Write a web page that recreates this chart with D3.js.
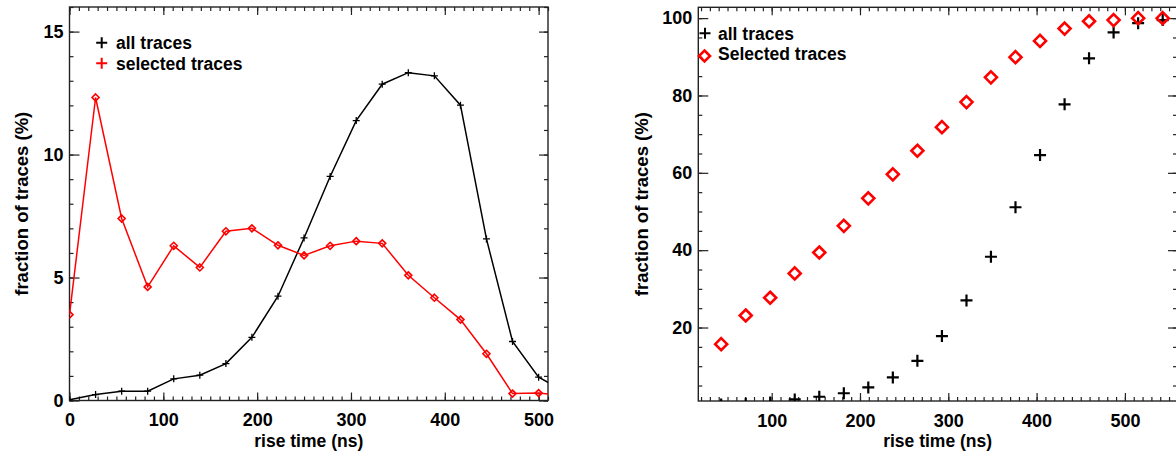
<!DOCTYPE html>
<html>
<head>
<meta charset="utf-8">
<script src="https://cdn.jsdelivr.net/npm/d3@7"></script>
<style>
  html, body { margin: 0; padding: 0; background: #fff; }
  svg { display: block; }
  text { font-family: "Liberation Sans", Arial, Helvetica, sans-serif; font-weight: bold; fill: #000; }
</style>
</head>
<body>
<svg id="chart" width="1176" height="459"></svg>
<script>
// ---------- Data: left panel (distribution) ----------
const riseTimeL = [0, 27.8, 55.6, 83.3, 111.1, 138.9, 166.7, 194.4, 222.2, 250, 277.8, 305.6, 333.3, 361.1, 388.9, 416.7, 444.4, 472.2, 500, 527.8];
const allTracesL = [0.03, 0.24, 0.38, 0.38, 0.88, 1.03, 1.5, 2.57, 4.24, 6.61, 9.11, 11.38, 12.86, 13.33, 13.2, 12.01, 6.57, 2.4, 0.95, 0.35];
const selTracesL = [3.49, 12.32, 7.4, 4.62, 6.29, 5.41, 6.88, 7.0, 6.31, 5.9, 6.29, 6.48, 6.39, 5.09, 4.18, 3.29, 1.9, 0.28, 0.3, 0.2];

// ---------- Data: right panel (cumulative) ----------
const riseTimeR = [42.8, 70.6, 98.3, 126.1, 153.9, 181.7, 209.4, 237.2, 265, 292.8, 320.6, 348.3, 376.1, 403.9, 431.7, 459.4, 487.2, 515, 542.8];
const allTracesR = [0.1, 0.3, 0.6, 1.4, 2.1, 3.0, 4.5, 7.1, 11.4, 17.8, 27.0, 38.3, 51.1, 64.6, 77.7, 89.6, 96.3, 98.7, 99.5];
const selTracesR = [15.7, 23.1, 27.7, 34.0, 39.4, 46.3, 53.4, 59.6, 65.7, 71.8, 78.3, 84.7, 89.9, 94.1, 97.3, 99.2, 99.5, 100.0, 100.0];

// ---------- Ticks / labels ----------
const xMajorL = [0, 100, 200, 300, 400, 500];
const yMajorL = [0, 5, 10, 15];
const xMajorR = [100, 200, 300, 400, 500];
const yMajorR = [20, 40, 60, 80, 100];
const xTitle = "rise time (ns)";
const yTitle = "fraction of traces (%)";
const legendL = ["all traces", "selected traces"];
const legendR = ["all traces", "Selected traces"];

const RED = "#ff0000";
const AXC = "#222";

const svg = d3.select("#chart");

function panel(cfg) {
  const { id, xDomain, xRange, yDomain, yRange, xMajor, xMinorStep, xMinorStart, yMajor, yMinorStep, yMinorStart } = cfg;
  const x = d3.scaleLinear().domain(xDomain).range(xRange);
  const y = d3.scaleLinear().domain(yDomain).range(yRange);
  const g = svg.append("g");

  svg.append("clipPath").attr("id", "clip" + id)
    .append("rect").attr("x", xRange[0]).attr("y", yRange[1])
    .attr("width", xRange[1] - xRange[0]).attr("height", yRange[0] - yRange[1]);

  const xMinor = d3.range(xMinorStart, xDomain[1] + 0.001, xMinorStep);
  const yMinor = d3.range(yMinorStart, yDomain[1] + 0.001, yMinorStep);

  const styleAxis = sel => {
    sel.select(".domain").remove();
    sel.selectAll("line").attr("stroke", AXC).attr("stroke-width", 1.2);
    sel.selectAll("text").style("font-size", "18px").style("font-weight", "bold").attr("fill", "#000");
  };

  g.append("g").attr("transform", `translate(0,${yRange[0]})`)
    .call(d3.axisBottom(x).tickValues(xMinor).tickSize(-4).tickFormat("")).call(styleAxis);
  g.append("g").attr("transform", `translate(0,${yRange[0]})`)
    .call(d3.axisBottom(x).tickValues(xMajor).tickSize(-8).tickPadding(13).tickFormat(d3.format("d"))).call(styleAxis);
  g.append("g").attr("transform", `translate(0,${yRange[1]})`)
    .call(d3.axisTop(x).tickValues(xMinor).tickSize(-4).tickFormat("")).call(styleAxis);
  g.append("g").attr("transform", `translate(0,${yRange[1]})`)
    .call(d3.axisTop(x).tickValues(xMajor).tickSize(-8).tickFormat("")).call(styleAxis);
  g.append("g").attr("transform", `translate(${xRange[0]},0)`)
    .call(d3.axisLeft(y).tickValues(yMinor).tickSize(-4).tickFormat("")).call(styleAxis);
  g.append("g").attr("transform", `translate(${xRange[0]},0)`)
    .call(d3.axisLeft(y).tickValues(yMajor).tickSize(-10).tickPadding(6).tickFormat(d3.format("d"))).call(styleAxis);
  g.append("g").attr("transform", `translate(${xRange[1]},0)`)
    .call(d3.axisRight(y).tickValues(yMinor).tickSize(-4).tickFormat("")).call(styleAxis);
  g.append("g").attr("transform", `translate(${xRange[1]},0)`)
    .call(d3.axisRight(y).tickValues(yMajor).tickSize(-9).tickFormat("")).call(styleAxis);

  g.append("rect").attr("x", xRange[0]).attr("y", yRange[1])
    .attr("width", xRange[1] - xRange[0]).attr("height", yRange[0] - yRange[1])
    .attr("fill", "none").attr("stroke", AXC).attr("stroke-width", 1.4);

  g.append("text").attr("x", (xRange[0] + xRange[1]) / 2).attr("y", 446.5)
    .attr("text-anchor", "middle").style("font-size", "17.5px").text(xTitle);
  g.append("text")
    .attr("transform", `translate(${cfg.yTitleX},${(yRange[0] + yRange[1]) / 2}) rotate(-90)`)
    .attr("text-anchor", "middle").style("font-size", "18.5px").text(yTitle);

  const plot = g.append("g").attr("clip-path", `url(#clip${id})`);
  return { x, y, g, plot };
}

function plusPath(s) { return `M${-s},0H${s}M0,${-s}V${s}`; }
function diamondPath(s) { return `M0,${-s}L${s},0L0,${s}L${-s},0Z`; }

// ---------- Left panel ----------
const L = panel({
  id: "L", xDomain: [0, 510], xRange: [69.5, 548], yDomain: [0, 16], yRange: [400.5, 7],
  xMajor: xMajorL, xMinorStep: 10, xMinorStart: 0, yMajor: yMajorL, yMinorStep: 1, yMinorStart: 0,
  yTitleX: 27.5
});
const line = (xs, ys, sc) => d3.line().x((d, i) => sc.x(xs[i])).y((d, i) => sc.y(ys[i]))(ys);

L.plot.append("path").attr("d", line(riseTimeL, allTracesL, L))
  .attr("fill", "none").attr("stroke", "#000").attr("stroke-width", 1.5);
L.plot.append("path").attr("d", line(riseTimeL, selTracesL, L))
  .attr("fill", "none").attr("stroke", RED).attr("stroke-width", 1.5);
L.plot.selectAll(".pa").data(allTracesL).enter().append("path")
  .attr("transform", (d, i) => `translate(${L.x(riseTimeL[i])},${L.y(d)})`)
  .attr("d", plusPath(3.5)).attr("stroke", "#000").attr("stroke-width", 1.3).attr("fill", "none");
L.plot.selectAll(".ps").data(selTracesL).enter().append("path")
  .attr("transform", (d, i) => `translate(${L.x(riseTimeL[i])},${L.y(d)})`)
  .attr("d", diamondPath(3.5)).attr("stroke", RED).attr("stroke-width", 1.6).attr("fill", "none");

[["#000", legendL[0], 42.7], [RED, legendL[1], 63.3]].forEach(([c, t, yy]) => {
  L.g.append("path").attr("transform", `translate(101.7,${yy})`).attr("d", plusPath(5.5))
    .attr("stroke", c).attr("stroke-width", 2).attr("fill", "none");
  L.g.append("text").attr("x", 116).attr("y", yy + 6.3).style("font-size", "17.5px").text(t);
});

// ---------- Right panel ----------
const R = panel({
  id: "R", xDomain: [16.9, 559], xRange: [698.3, 1177], yDomain: [1, 102.8], yRange: [401, 7.3],
  xMajor: xMajorR, xMinorStep: 10, xMinorStart: 20, yMajor: yMajorR, yMinorStep: 5, yMinorStart: 5,
  yTitleX: 647.5
});
R.plot.selectAll(".ra").data(allTracesR).enter().append("path")
  .attr("transform", (d, i) => `translate(${R.x(riseTimeR[i])},${R.y(d)})`)
  .attr("d", plusPath(6)).attr("stroke", "#000").attr("stroke-width", 2.2).attr("fill", "none");
R.plot.selectAll(".rs").data(selTracesR).enter().append("path")
  .attr("transform", (d, i) => `translate(${R.x(riseTimeR[i])},${R.y(d)})`)
  .attr("d", diamondPath(6)).attr("stroke", RED).attr("stroke-width", 2.6).attr("fill", "none");

R.g.append("path").attr("transform", "translate(705,33.3)").attr("d", plusPath(5.5))
  .attr("stroke", "#000").attr("stroke-width", 2).attr("fill", "none");
R.g.append("text").attr("x", 718).attr("y", 39.6).style("font-size", "17.5px").text(legendR[0]);
R.g.append("path").attr("transform", "translate(704.5,56)").attr("d", diamondPath(5.5))
  .attr("stroke", RED).attr("stroke-width", 2.6).attr("fill", "none");
R.g.append("text").attr("x", 718).attr("y", 60.2).style("font-size", "17.5px").text(legendR[1]);
</script>
</body>
</html>
